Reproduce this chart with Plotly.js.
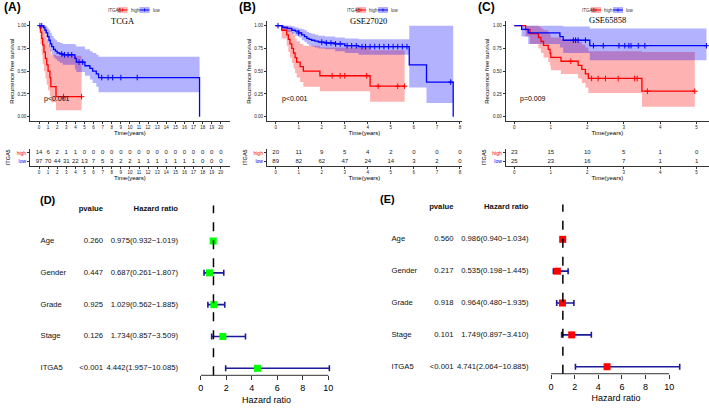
<!DOCTYPE html>
<html><head><meta charset="utf-8">
<script src="https://cdn.plot.ly/plotly-3.0.1.min.js"></script>
<style>html,body{margin:0;padding:0;background:#fff}#chart{width:709px;height:408px}</style>
</head><body><div id="chart"></div>
<script>
// ---------------- DATA ----------------
// Panel A (TCGA)
const A_high_t   = [0, 0.15, 0.3, 0.4, 0.55, 0.7, 0.85, 1.0, 1.2, 1.3, 1.87, 4.68];
const A_high_s   = [1, 0.93, 0.86, 0.79, 0.71, 0.64, 0.57, 0.50, 0.43, 0.33, 0.22, 0.22];
const A_high_up  = [1, 1, 1, 0.98, 0.95, 0.90, 0.85, 0.80, 0.75, 0.68, 0.67, 0.67];
const A_high_lo  = [1, 0.80, 0.68, 0.58, 0.50, 0.42, 0.35, 0.29, 0.23, 0.16, 0.07, 0.07];
const A_high_cens = [2.7, 4.68];
const A_low_t    = [0, 0.5, 0.65, 0.8, 0.95, 1.1, 1.25, 1.4, 1.6, 1.8, 2.0, 2.3, 2.6, 3.95, 4.1, 5.05, 5.6, 5.9, 6.3, 6.55, 17.66];
const A_low_s    = [1, 0.98, 0.95, 0.92, 0.88, 0.84, 0.80, 0.77, 0.74, 0.72, 0.70, 0.69, 0.68, 0.64, 0.60, 0.56, 0.53, 0.50, 0.47, 0.43, 0];
const A_low_up   = [1, 1, 1, 0.99, 0.97, 0.95, 0.92, 0.89, 0.86, 0.84, 0.82, 0.81, 0.80, 0.79, 0.77, 0.74, 0.72, 0.70, 0.68, 0.66, 0.66];
const A_low_lo   = [1, 0.95, 0.91, 0.87, 0.81, 0.76, 0.72, 0.68, 0.65, 0.63, 0.61, 0.59, 0.57, 0.52, 0.49, 0.45, 0.41, 0.37, 0.33, 0.27, 0.27];
const A_low_cens = [0.1, 0.3, 2.5, 2.8, 3.2, 3.6, 4.4, 4.8, 6.9, 7.6, 8.1, 9.0, 10.8];
const A_riskTimes = [0,1,2,3,4,5,6,7,8,9,10,11,12,13,14,15,16,17,18,19,20];
const A_riskHigh  = [14,6,2,1,1,0,0,0,0,0,0,0,0,0,0,0,0,0,0,0,0];
const A_riskLow   = [97,70,44,31,22,13,7,5,3,2,2,1,1,1,1,1,1,1,0,0,0];

// Panel B (GSE27020)
const B_high_t   = [0, 0.1, 0.26, 0.48, 0.55, 0.62, 0.7, 0.77, 0.84, 0.91, 1.06, 1.2, 1.92, 4.1, 5.6];
const B_high_s   = [1, 1, 0.95, 0.90, 0.85, 0.80, 0.75, 0.70, 0.65, 0.60, 0.55, 0.50, 0.45, 0.335, 0.335];
const B_high_up  = [1, 1, 1, 1, 0.98, 0.96, 0.93, 0.90, 0.86, 0.83, 0.80, 0.78, 0.76, 0.73, 0.73];
const B_high_lo  = [1, 1, 0.86, 0.78, 0.71, 0.65, 0.59, 0.53, 0.48, 0.43, 0.38, 0.33, 0.28, 0.165, 0.165];
const B_high_cens = [2.45, 2.8, 3.0, 3.95, 4.45, 5.3, 5.6];
const B_low_t    = [0, 0.3, 0.5, 0.7, 0.85, 1.0, 1.13, 1.25, 1.35, 1.45, 1.56, 1.7, 1.85, 2.14, 2.58, 3.0, 3.6, 5.8, 6.55, 7.71];
const B_low_s    = [1, 0.98, 0.97, 0.95, 0.94, 0.92, 0.90, 0.88, 0.86, 0.85, 0.84, 0.83, 0.82, 0.81, 0.80, 0.78, 0.77, 0.57, 0.38, 0];
const B_low_up   = [1, 1, 1, 0.99, 0.98, 0.97, 0.96, 0.95, 0.93, 0.92, 0.91, 0.90, 0.89, 0.88, 0.87, 0.86, 0.85, 1.0, 1.0, 1.0];
const B_low_lo   = [1, 0.95, 0.93, 0.91, 0.89, 0.87, 0.84, 0.82, 0.80, 0.78, 0.77, 0.76, 0.75, 0.74, 0.72, 0.70, 0.68, 0.32, 0.15, 0.15];
const B_low_cens = [0.1, 1.0, 2.0, 2.2, 2.4, 2.6, 2.8, 3.1, 3.3, 3.5, 3.75, 3.9, 4.1, 4.3, 4.5, 4.7, 4.9, 5.1, 5.3, 5.5, 5.7, 7.6];
const B_riskTimes = [0,1,2,3,4,5,6,7,8];
const B_riskHigh  = [20,11,9,5,4,2,0,0,0];
const B_riskLow   = [89,82,62,47,24,14,3,2,0];

// Panel C (GSE65858)
const C_high_t   = [0, 0.31, 0.43, 0.66, 0.73, 0.8, 0.93, 0.98, 1.0, 1.28, 1.75, 1.85, 1.95, 2.03, 3.5, 4.95];
const C_high_s   = [1, 0.957, 0.913, 0.870, 0.826, 0.783, 0.739, 0.696, 0.652, 0.609, 0.565, 0.52, 0.47, 0.42, 0.28, 0.28];
const C_high_up  = [1, 1, 1, 0.99, 0.97, 0.95, 0.92, 0.90, 0.87, 0.85, 0.82, 0.79, 0.76, 0.72, 0.71, 0.71];
const C_high_lo  = [1, 0.88, 0.80, 0.75, 0.70, 0.65, 0.60, 0.56, 0.51, 0.47, 0.42, 0.37, 0.32, 0.26, 0.11, 0.11];
const C_high_cens = [1.55, 2.12, 2.3, 2.5, 2.85, 3.3, 3.37, 3.65, 4.95];
const C_low_t    = [0, 0.2, 0.38, 1.25, 1.34, 2.07, 5.27];
const C_low_s    = [1, 0.96, 0.92, 0.88, 0.84, 0.78, 0.78];
const C_low_up   = [1, 1, 1, 1, 0.99, 0.97, 0.97];
const C_low_lo   = [1, 0.88, 0.80, 0.76, 0.70, 0.62, 0.62];
const C_low_cens = [1.62, 1.68, 1.75, 1.95, 2.17, 2.44, 2.87, 3.03, 3.14, 3.2, 3.4, 3.58, 5.27];
const C_riskTimes = [0,1,2,3,4,5];
const C_riskHigh  = [23,15,10,5,1,0];
const C_riskLow   = [25,23,16,7,1,1];

// Forest plots
const vars   = ['Age','Gender','Grade','Stage','ITGA5'];
const D_p    = ['0.260','0.447','0.925','0.126','<0.001'];
const D_hr   = [0.975, 0.687, 1.029, 1.734, 4.442];
const D_lo   = [0.932, 0.261, 0.562, 0.857, 1.957];
const D_hi   = [1.019, 1.807, 1.885, 3.509, 10.085];
const E_p    = ['0.560','0.217','0.918','0.101','<0.001'];
const E_hr   = [0.986, 0.535, 0.964, 1.749, 4.741];
const E_lo   = [0.940, 0.198, 0.480, 0.897, 2.064];
const E_hi   = [1.034, 1.445, 1.935, 3.410, 10.885];
const forestTicks = [0,2,4,6,8,10];
const kmYTicks = [0, 0.25, 0.5, 0.75, 1];

// ---------------- STYLE ----------------
const FONT = 'Liberation Sans, Arial, sans-serif';
const SERIF = 'Liberation Serif, Times New Roman, serif';
const RED = '#FF0000', BLUE = '#0000FF';
const RED_BAND = 'rgba(255,0,0,0.3)', BLUE_BAND = 'rgba(0,0,255,0.3)';
const W = 709, H = 408;
const px = v => v / W, py = v => 1 - v / H;

function stepAt(t, s, x) { let v = s[0]; for (let i = 0; i < t.length; i++) if (t[i] <= x) v = s[i]; return v; }

const traces = [];
function band(xa, ya, t, lo, up, fc) {
  traces.push({x: t, y: lo, xaxis: xa, yaxis: ya, type: 'scatter', mode: 'lines', line: {width: 0, shape: 'hv'}, hoverinfo: 'skip', showlegend: false});
  traces.push({x: t, y: up, xaxis: xa, yaxis: ya, type: 'scatter', mode: 'lines', line: {width: 0, shape: 'hv'}, fill: 'tonexty', fillcolor: fc, hoverinfo: 'skip', showlegend: false});
}
function curve(xa, ya, t, s, cens, color) {
  traces.push({x: t, y: s, xaxis: xa, yaxis: ya, type: 'scatter', mode: 'lines', line: {width: 1.3, shape: 'hv', color: color}, hoverinfo: 'skip', showlegend: false});
  traces.push({x: cens, y: cens.map(c => stepAt(t, s, c)), xaxis: xa, yaxis: ya, type: 'scatter', mode: 'markers',
    marker: {symbol: 'cross-thin', size: 4, line: {width: 1, color: color}}, hoverinfo: 'skip', showlegend: false, cliponaxis: false});
}
function risk(xa, ya, t, hi, lo) {
  traces.push({x: t, y: t.map(() => 2), text: hi.map(String), mode: 'text', type: 'scatter', xaxis: xa, yaxis: ya,
    textfont: {size: 6, family: FONT, color: '#222'}, hoverinfo: 'skip', showlegend: false, cliponaxis: false});
  traces.push({x: t, y: t.map(() => 1), text: lo.map(String), mode: 'text', type: 'scatter', xaxis: xa, yaxis: ya,
    textfont: {size: 6, family: FONT, color: '#222'}, hoverinfo: 'skip', showlegend: false, cliponaxis: false});
}

// KM panels
band('x', 'y', A_high_t, A_high_lo, A_high_up, RED_BAND);
band('x', 'y', A_low_t, A_low_lo, A_low_up, BLUE_BAND);
curve('x', 'y', A_high_t, A_high_s, A_high_cens, RED);
curve('x', 'y', A_low_t, A_low_s, A_low_cens, BLUE);
risk('x2', 'y2', A_riskTimes, A_riskHigh, A_riskLow);

band('x3', 'y3', B_high_t, B_high_lo, B_high_up, RED_BAND);
band('x3', 'y3', B_low_t, B_low_lo, B_low_up, BLUE_BAND);
curve('x3', 'y3', B_high_t, B_high_s, B_high_cens, RED);
curve('x3', 'y3', B_low_t, B_low_s, B_low_cens, BLUE);
risk('x4', 'y4', B_riskTimes, B_riskHigh, B_riskLow);

band('x5', 'y5', C_high_t, C_high_lo, C_high_up, RED_BAND);
band('x5', 'y5', C_low_t, C_low_lo, C_low_up, BLUE_BAND);
curve('x5', 'y5', C_high_t, C_high_s, C_high_cens, RED);
curve('x5', 'y5', C_low_t, C_low_s, C_low_cens, BLUE);
risk('x6', 'y6', C_riskTimes, C_riskHigh, C_riskLow);

// Forest plots
const rows = vars.map((v, i) => vars.length - i);
function forest(xa, ya, txa, hr, lo, hi, pv, color, xLabel, xP, xHR) {
  traces.push({x: hr, y: rows, xaxis: xa, yaxis: ya, type: 'scatter', mode: 'markers',
    marker: {symbol: 'square', size: 7, color: color},
    error_x: {type: 'data', symmetric: false, array: hi.map((h, i) => h - hr[i]), arrayminus: hr.map((v, i) => v - lo[i]),
      color: '#1a1a9a', thickness: 1.6, width: 3},
    hoverinfo: 'skip', showlegend: false, cliponaxis: false});
  const tf = {size: 7.7, family: FONT, color: '#111'};
  traces.push({x: rows.map(() => xLabel), y: rows, text: vars, mode: 'text', textposition: 'middle right', type: 'scatter',
    xaxis: txa, yaxis: ya, textfont: tf, hoverinfo: 'skip', showlegend: false, cliponaxis: false});
  traces.push({x: rows.map(() => xP).concat([xP]), y: rows.concat([6]), text: pv.concat(['<b>pvalue</b>']), mode: 'text', textposition: 'middle left', type: 'scatter',
    xaxis: txa, yaxis: ya, textfont: tf, hoverinfo: 'skip', showlegend: false, cliponaxis: false});
  const hrText = hr.map((v, i) => v.toFixed(3) + '(' + lo[i].toFixed(3) + '\u2212' + hi[i].toFixed(3) + ')');
  traces.push({x: rows.map(() => xHR).concat([xHR]), y: rows.concat([6]), text: hrText.concat(['<b>Hazard ratio</b>']), mode: 'text', textposition: 'middle left', type: 'scatter',
    xaxis: txa, yaxis: ya, textfont: tf, hoverinfo: 'skip', showlegend: false, cliponaxis: false});
}
forest('x7', 'y7', 'x9', D_hr, D_lo, D_hi, D_p, '#00FF00', 40.5, 103, 178);
forest('x8', 'y8', 'x10', E_hr, E_lo, E_hi, E_p, '#FF0000', 391.5, 453.5, 528.5);

// ---------------- LAYOUT ----------------
const kmY = [0.7028, 0.9482];
const tabY = [0.5931, 0.6358];
const domA = [0.0422, 0.3243], domB = [0.3762, 0.6519], domC = [0.7131, 1.0];
const axLine = {showline: true, linecolor: '#000', linewidth: 0.8, ticks: 'outside', ticklen: 2, tickwidth: 0.8, tickcolor: '#000',
  showgrid: false, zeroline: false, tickfont: {size: 4.5, family: FONT, color: '#222'}};
function kmX(dom, range, ticks, anchor) {
  return Object.assign({}, axLine, {domain: dom, range: range, anchor: anchor, tickvals: ticks,
    title: {text: 'Time(years)', font: {size: 6, family: FONT}, standoff: 1}});
}
function kmYAx(anchor) {
  return Object.assign({}, axLine, {domain: kmY, range: [-0.05, 1.05], anchor: anchor, tickvals: kmYTicks,
    ticktext: kmYTicks.map(v => v.toFixed(2)), title: {text: 'Recurrence free survival', font: {size: 6, family: FONT}, standoff: 2}});
}
function tabYAx(anchor) {
  return Object.assign({}, axLine, {domain: tabY, range: [0.5, 2.5], anchor: anchor, tickvals: [1, 2],
    ticktext: ['<span style="color:#0000FF">low</span>', '<span style="color:#FF0000">high</span>'],
    tickfont: {size: 5, family: FONT}, title: {text: 'ITGA5', font: {size: 5.5, family: FONT}, standoff: 5}});
}
function forestX(dom, range, anchor) {
  return {domain: dom, range: range, anchor: anchor, showline: false, showgrid: false, zeroline: false, ticks: 'outside', ticklen: 4,
    tickwidth: 1, tickcolor: '#333', tickvals: forestTicks, tickfont: {size: 9, family: FONT, color: '#000'},
    title: {text: 'Hazard ratio', font: {size: 9, family: FONT, color: '#000'}, standoff: 4}};
}

const shapes = [
  {type: 'line', xref: 'x7', yref: 'y7 domain', x0: 0, x1: 10, y0: 0, y1: 0, line: {color: '#333', width: 1}},
  {type: 'line', xref: 'x8', yref: 'y8 domain', x0: 0, x1: 10, y0: 0, y1: 0, line: {color: '#333', width: 1}},
  {type: 'line', xref: 'x7', yref: 'y7 domain', x0: 1, x1: 1, y0: 0, y1: 0.985, line: {color: '#000', width: 1.5, dash: 'dash'}},
  {type: 'line', xref: 'x8', yref: 'y8 domain', x0: 1, x1: 1, y0: 0, y1: 0.98, line: {color: '#000', width: 1.5, dash: 'dash'}}
];
const annotations = [];
function legendAt(x0) {
  const yc = 10;
  annotations.push({xref: 'paper', yref: 'paper', x: px(x0), y: py(yc), xanchor: 'left', yanchor: 'middle', text: 'ITGA5', showarrow: false, font: {size: 4.5, family: FONT, color: '#333'}});
  [[11, 21, RED_BAND, RED, 'high', 22], [33, 43, BLUE_BAND, BLUE, 'low', 44]].forEach(k => {
    shapes.push({type: 'rect', xref: 'paper', yref: 'paper', x0: px(x0 + k[0]), x1: px(x0 + k[1]), y0: py(yc + 3), y1: py(yc - 3), fillcolor: k[2], line: {width: 0}});
    shapes.push({type: 'line', xref: 'paper', yref: 'paper', x0: px(x0 + k[0]), x1: px(x0 + k[1]), y0: py(yc), y1: py(yc), line: {color: k[3], width: 1}});
    shapes.push({type: 'line', xref: 'paper', yref: 'paper', x0: px(x0 + (k[0] + k[1]) / 2), x1: px(x0 + (k[0] + k[1]) / 2), y0: py(yc - 1.5), y1: py(yc + 1.5), line: {color: k[3], width: 0.8}});
    annotations.push({xref: 'paper', yref: 'paper', x: px(x0 + k[5]), y: py(yc), xanchor: 'left', yanchor: 'middle', text: k[4], showarrow: false, font: {size: 4.5, family: FONT, color: '#333'}});
  });
}
legendAt(106.5); legendAt(345); legendAt(580);

function ann(x, y, text, size, family, extra) {
  annotations.push(Object.assign({xref: 'paper', yref: 'paper', x: px(x), y: py(y), text: text, showarrow: false,
    font: {size: size, family: family, color: '#000'}, xanchor: 'left', yanchor: 'middle'}, extra || {}));
}
ann(2, 7, '<b>(A)</b>', 12, FONT);
ann(237, 7, '<b>(B)</b>', 12, FONT);
ann(476, 7, '<b>(C)</b>', 12, FONT);
ann(38, 200, '<b>(D)</b>', 11, FONT);
ann(378, 199, '<b>(E)</b>', 11, FONT);
ann(123, 21, 'TCGA', 8.5, SERIF, {xanchor: 'center'});
ann(368, 21, 'GSE27020', 8.5, SERIF, {xanchor: 'center'});
ann(607, 20, 'GSE65858', 8.5, SERIF, {xanchor: 'center'});
annotations.push({xref: 'x', yref: 'y', x: 0.3, y: 0.19, text: 'p<0.001', showarrow: false, xanchor: 'left', font: {size: 7, family: FONT, color: '#000'}});
annotations.push({xref: 'x3', yref: 'y3', x: 0.19, y: 0.19, text: 'p<0.001', showarrow: false, xanchor: 'left', font: {size: 7, family: FONT, color: '#000'}});
annotations.push({xref: 'x5', yref: 'y5', x: 0.09, y: 0.19, text: 'p=0.009', showarrow: false, xanchor: 'left', font: {size: 7, family: FONT, color: '#000'}});

const layout = {
  width: W, height: H, margin: {l: 0, r: 0, t: 0, b: 0}, paper_bgcolor: '#fff', plot_bgcolor: 'rgba(0,0,0,0)',
  showlegend: false, font: {family: FONT, color: '#000'},
  xaxis: kmX(domA, [-1, 21], A_riskTimes, 'y'), yaxis: kmYAx('x'),
  xaxis2: kmX(domA, [-1, 21], A_riskTimes, 'y2'), yaxis2: tabYAx('x2'),
  xaxis3: kmX(domB, [-0.39, 8.1], B_riskTimes, 'y3'), yaxis3: kmYAx('x3'),
  xaxis4: kmX(domB, [-0.39, 8.1], B_riskTimes, 'y4'), yaxis4: tabYAx('x4'),
  xaxis5: kmX(domC, [-0.24, 5.34], C_riskTimes, 'y5'), yaxis5: kmYAx('x5'),
  xaxis6: kmX(domC, [-0.24, 5.34], C_riskTimes, 'y6'), yaxis6: tabYAx('x6'),
  xaxis7: forestX([0.2831, 0.4684], [0, 10.3], 'y7'),
  yaxis7: {domain: [0.0801, 0.5029], range: [0.78, 6.2], anchor: 'x7', visible: false},
  xaxis8: forestX([0.7772, 0.9606], [0, 11], 'y8'),
  yaxis8: {domain: [0.084, 0.5071], range: [0.78, 6.2], anchor: 'x8', visible: false},
  xaxis9: {domain: [0, 0.28], range: [0, 198.5], anchor: 'y7', visible: false},
  xaxis10: {domain: [0.5007, 0.7687], range: [355, 545], anchor: 'y8', visible: false},
  shapes: shapes, annotations: annotations
};
Plotly.newPlot('chart', traces, layout, {staticPlot: true, displayModeBar: false});
</script></body></html>
